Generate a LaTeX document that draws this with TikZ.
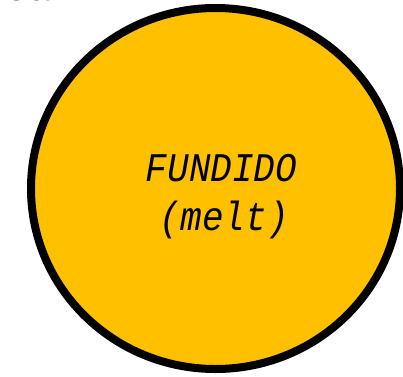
\documentclass[tikz,border=0pt]{standalone}
\usepackage{fontspec}
\setmonofont{Liberation Mono}
\definecolor{meltgold}{HTML}{FFC000}
\tikzset{
  phase/.style={draw=black, line width=8pt, fill=meltgold},
  phaselabel/.style={font=\ttfamily\itshape\fontsize{36}{40}\selectfont, anchor=base, inner sep=0pt, yscale=1.13, transform shape},
  cliptext/.style={font=\ttfamily\bfseries\fontsize{40}{44}\selectfont, anchor=base west, inner sep=0pt}
}
\begin{document}
\begin{tikzpicture}[x=1pt,y=1pt]
\useasboundingbox (0,0) rectangle (403,376);
\clip (0,0) rectangle (403,376);
\fill[white] (0,0) rectangle (403,376);
\node[cliptext] (title) at (4,375) {ea 1};
\draw[phase] (215.5,187.5) ellipse [x radius=184.5, y radius=180.5];
\node[phaselabel] (fundido) at (221.5,195) {FUNDIDO};
\node[phaselabel] (melt) at (224,146) {(melt)};
\end{tikzpicture}
\end{document}
